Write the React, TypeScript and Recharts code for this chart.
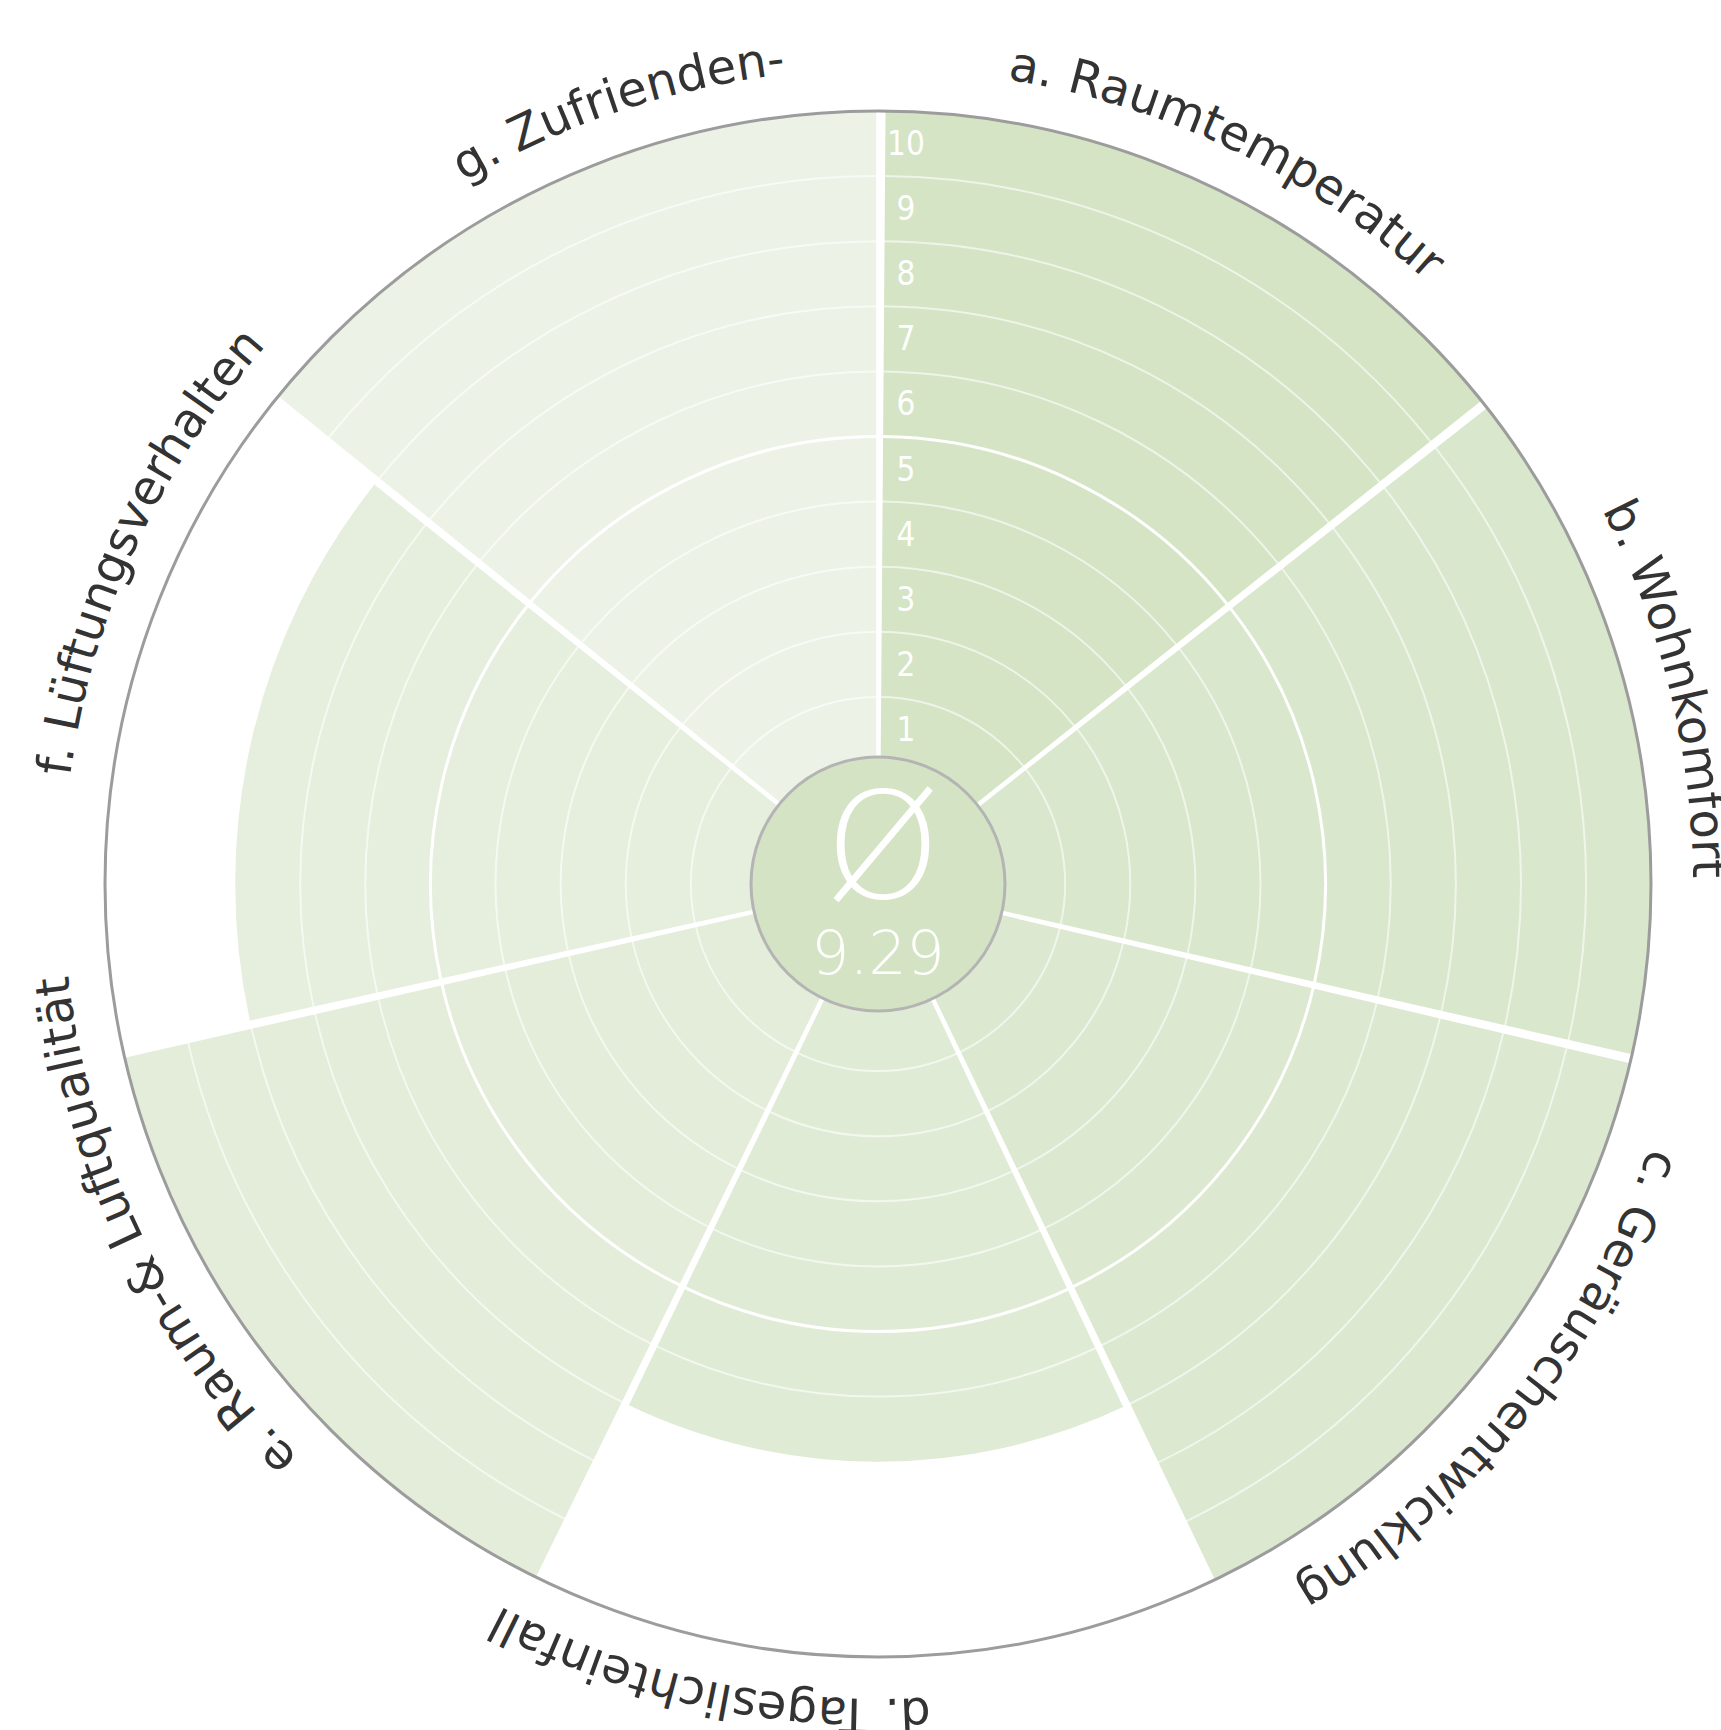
import React from 'react';
import { RadialBarChart, RadialBar, PolarAngleAxis, PolarRadiusAxis, Sector, Cell } from 'recharts';

// categories around the rose, clockwise from 12 o'clock
const categories = [
  'a. Raumtemperatur',
  'b. Wohnkomfort',
  'c. Geräuschentwicklung',
  'd. Tageslichteinfall',
  'e. Raum-& Luftqualität',
  'f. Lüftungsverhalten',
  'g. Zufrienden-',
];
const scores = [10, 10, 10, 7, 10, 8, 10];
const sectorColors = ['#d4e4c4', '#d9e7cc', '#dce8d0', '#e0ebd6', '#e3edd9', '#e6efde', '#ecf3e6'];
// label nudges (degrees, clockwise) so the curved texts sit like the original
const labelShift = [0, -1, 0.5, 12, 13, 11.6, 7.2];

const W = 1721;
const H = 1730;
const CX = 878;
const CY = 884;
const INNER = 122;
const OUTER = 773;
const LABEL_R = 815;
const RAD = Math.PI / 180;
const BAND = 360 / categories.length;

const rows = categories.map((name, i) => ({ name, value: scores[i] }));
const average = scores.reduce((s, v) => s + v, 0) / scores.length;

const polar = (cx: number, cy: number, r: number, a: number) => ({
  x: cx + r * Math.cos(-a * RAD),
  y: cy + r * Math.sin(-a * RAD),
});

// sector with its own white rings, so rings stop where the sector stops
const RoseSector = (props: any) => {
  const { cx, cy, innerRadius, outerRadius, startAngle, endAngle, fill, payload } = props;
  const v = payload?.value ?? 10;
  const step = (outerRadius - innerRadius) / v;
  const sweep = endAngle < startAngle ? 1 : 0;
  const rings = [];
  for (let k = 1; k < v; k++) {
    const r = innerRadius + k * step;
    const p1 = polar(cx, cy, r, startAngle);
    const p2 = polar(cx, cy, r, endAngle);
    rings.push(
      <path
        key={k}
        d={`M${p1.x},${p1.y} A${r},${r} 0 0 ${sweep} ${p2.x},${p2.y}`}
        fill="none"
        stroke="#ffffff"
        strokeOpacity={k === 5 ? 1 : 0.6}
        strokeWidth={k === 5 ? 3 : 2}
      />
    );
  }
  return (
    <g>
      <Sector
        cx={cx}
        cy={cy}
        innerRadius={innerRadius}
        outerRadius={outerRadius}
        startAngle={startAngle}
        endAngle={endAngle}
        fill={fill}
        stroke="none"
      />
      {rings}
      {[startAngle, endAngle].map((a: number, i: number) => {
        const p1 = polar(cx, cy, innerRadius, a);
        const p2 = polar(cx, cy, outerRadius, a);
        return <line key={i} x1={p1.x} y1={p1.y} x2={p2.x} y2={p2.y} stroke="#ffffff" strokeWidth={3.5} />;
      })}
    </g>
  );
};

const CurvedLabel = (props: any) => {
  const { x, y, payload, index } = props;
  // tick sits on the clockwise end of its band; centre the text in the band
  const base = Math.atan2(x - CX, CY - y) / RAD - BAND / 2;
  const c = base + (labelShift[index] ?? 0);
  const pt = (deg: number) => ({
    x: CX + LABEL_R * Math.sin(deg * RAD),
    y: CY - LABEL_R * Math.cos(deg * RAD),
  });
  const s = pt(c - 170);
  const e = pt(c + 170);
  const id = `curved-label-${index}`;
  return (
    <g>
      <defs>
        <path id={id} d={`M${s.x},${s.y} A${LABEL_R},${LABEL_R} 0 1 1 ${e.x},${e.y}`} />
      </defs>
      <text fill="#333333" fontSize={48} fontFamily="'DejaVu Sans', sans-serif">
        <textPath href={`#${id}`} startOffset="50%" textAnchor="middle">
          {payload.value}
        </textPath>
      </text>
    </g>
  );
};

const RadiusTick = (props: any) => {
  const { x, y, payload } = props;
  if (!payload || !payload.value) return null;
  const half = (OUTER - INNER) / 20;
  return (
    <text
      x={x + 28}
      y={y + half}
      fill="#ffffff"
      fontSize={33}
      textAnchor="middle"
      dominantBaseline="central"
      fontFamily="'DejaVu Sans Condensed', 'DejaVu Sans', sans-serif"
    >
      {payload.value}
    </text>
  );
};

export default function App() {
  return (
    <div style={{ position: 'absolute', left: 0, top: 0, width: W, height: H, background: '#ffffff' }}>
      <RadialBarChart
        width={W}
        height={H}
        cx={CX}
        cy={CY}
        innerRadius={INNER}
        outerRadius={OUTER}
        startAngle={90 - BAND}
        endAngle={90 - BAND - 360}
        data={rows}
        layout="centric"
        barCategoryGap={0}
        margin={{ top: 0, right: 0, bottom: 0, left: 0 }}
      >
        <RadialBar dataKey="value" isAnimationActive={false} shape={RoseSector}>
          {rows.map((r, i) => (
            <Cell key={r.name} fill={sectorColors[i]} />
          ))}
        </RadialBar>
        <PolarAngleAxis
          type="category"
          dataKey="name"
          axisLineType="circle"
          axisLine={{ stroke: '#9c9c9c', strokeWidth: 3 }}
          tickLine={false}
          tick={CurvedLabel}
        />
        <PolarRadiusAxis
          type="number"
          domain={[0, 10]}
          angle={90}
          tickCount={11}
          allowDecimals={false}
          axisLine={false}
          tickLine={false}
          tick={RadiusTick}
        />
      </RadialBarChart>
      <svg width={W} height={H} style={{ position: 'absolute', left: 0, top: 0, pointerEvents: 'none' }}>
        <circle cx={CX} cy={CY} r={INNER + 5} fill="#d4e3c4" stroke="#b4b4b4" strokeWidth={3} />
        <text x={CX + 5} y={CY + 14} fill="#ffffff" fontSize={148} fontWeight={200} textAnchor="middle" fontFamily="'DejaVu Sans', sans-serif">
          Ø
        </text>
        <text x={CX} y={CY + 90} fill="#ffffff" fontSize={60} fontWeight={200} textAnchor="middle" fontFamily="'DejaVu Sans', sans-serif">
          {average.toFixed(2)}
        </text>
      </svg>
    </div>
  );
}
